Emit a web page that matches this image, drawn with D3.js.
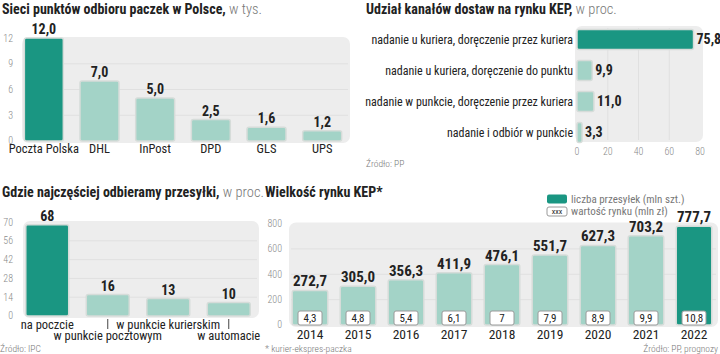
<!DOCTYPE html>
<html>
<head>
<meta charset="utf-8">
<script src="https://cdn.jsdelivr.net/npm/d3@7"></script>
<style>
  body { margin: 0; background: #fff; }
  svg { display: block; font-family: Roboto, sans-serif; font-stretch: condensed; }
</style>
</head>
<body>
<div id="chart"></div>
<script>
// dane
const pointsCats = ['Poczta Polska', 'DHL', 'InPost', 'DPD', 'GLS', 'UPS'];
const pointsValues = [12.0, 7.0, 5.0, 2.5, 1.6, 1.2];
const pointsTicks = [0, 3, 6, 9, 12];

const channelCats = [
  'nadanie u kuriera, doręczenie przez kuriera',
  'nadanie u kuriera, doręczenie do punktu',
  'nadanie w punkcie, doręczenie przez kuriera',
  'nadanie i odbiór w punkcie'
];
const channelValues = [75.8, 9.9, 11.0, 3.3];
const channelTicks = [0, 20, 40, 60, 80];

const pickupCats = ['na poczcie', 'w punkcie pocztowym', 'w punkcie kurierskim', 'w automacie'];
const pickupValues = [68, 16, 13, 10];
const pickupTicks = [0, 14, 28, 42, 56, 70];

const years = ['2014', '2015', '2016', '2017', '2018', '2019', '2020', '2021', '2022'];
const shipments = [272.7, 305.0, 356.3, 411.9, 476.1, 551.7, 627.3, 703.2, 777.7];
const marketValue = [4.3, 4.8, 5.4, 6.1, 7, 7.9, 8.9, 9.9, 10.8];
const kepTicks = [0, 200, 400, 600, 800];

const DARK = '#1a9682';
const LIGHT = '#a3d3c7';
const BAR_STROKE = '#d6dcd9';
const BG = '#ededed';
const GRID = '#e0e0e0';

const fmt1 = v => d3.format('.1f')(v).replace('.', ',');
const fmtRaw = v => String(v).replace('.', ',');

const svg = d3.select('#chart')
  .append('svg')
    .attr('width', 720)
    .attr('height', 354);

function title(g, x, y, bold, light) {
  const t = g.append('text')
    .attr('x', x)
    .attr('y', y)
    .attr('font-size', 14)
    .attr('fill', '#222');
  t.append('tspan').attr('font-weight', 'bold').text(bold);
  if (light) t.append('tspan').attr('fill', '#777').attr('font-weight', 300).attr('font-size', 14.5).text(light);
}

function yTicks(g, y, ticks, x) {
  g.selectAll(null)
    .data(ticks)
    .enter()
    .append('text')
      .attr('x', x)
      .attr('y', d => y(d) - (d === 0 ? 1 : 0))
      .attr('dy', '0.35em')
      .attr('text-anchor', 'end')
      .attr('font-size', 10)
      .attr('font-weight', 300)
      .attr('fill', '#8a8a8a')
      .text(d => d);
}

// 1. Sieci punktów odbioru paczek
{
  const g = svg.append('g');
  title(g, 2, 14, 'Sieci punktów odbioru paczek w Polsce,', ' w tys.');

  const x = d3.scaleBand().domain(pointsCats).range([16, 350]).paddingInner(0.3).paddingOuter(0.15);
  const y = d3.scaleLinear().domain([0, 12]).range([141, 38]);

  g.append('rect')
    .attr('x', 22).attr('y', y(12) - 1)
    .attr('width', 328).attr('height', y(0) - y(12) + 3)
    .attr('rx', 7).attr('fill', BG);

  g.selectAll(null).data(pointsTicks.slice(1, -1)).enter()
    .append('line')
      .attr('x1', 24).attr('x2', 348)
      .attr('y1', d => y(d)).attr('y2', d => y(d))
      .attr('stroke', GRID);

  yTicks(g, y, pointsTicks, 13);

  g.selectAll('rect.bar').data(pointsValues).enter()
    .append('rect')
      .attr('class', 'bar')
      .attr('x', (d, i) => x(pointsCats[i]))
      .attr('y', d => y(d))
      .attr('width', x.bandwidth())
      .attr('height', d => y(0) - y(d))
      .attr('rx', 2)
      .attr('fill', (d, i) => i === 0 ? DARK : LIGHT)
      .attr('stroke', BAR_STROKE)
      .attr('stroke-width', 1.5);

  g.selectAll(null).data(pointsValues).enter()
    .append('text')
      .attr('x', (d, i) => x(pointsCats[i]) + x.bandwidth() / 2)
      .attr('y', d => y(d) - 4)
      .attr('text-anchor', 'middle')
      .attr('font-size', 14)
      .attr('font-weight', 'bold')
      .attr('fill', '#222')
      .text(fmt1);

  g.selectAll(null).data(pointsCats).enter()
    .append('text')
      .attr('x', d => x(d) + x.bandwidth() / 2)
      .attr('y', 153)
      .attr('text-anchor', 'middle')
      .attr('font-size', 12.5)
      .attr('fill', '#222')
      .text(d => d);
}

// 2. Udział kanałów dostaw
{
  const g = svg.append('g');
  title(g, 366, 14, 'Udział kanałów dostaw na rynku KEP,', ' w proc.');

  const x = d3.scaleLinear().domain([0, 80]).range([577, 700]);
  const y = d3.scaleBand().domain(channelCats).range([24, 148]).paddingInner(0.35).paddingOuter(0.175);

  g.append('rect')
    .attr('x', 575).attr('y', 26)
    .attr('width', 128).attr('height', 116)
    .attr('rx', 7).attr('fill', BG);

  g.selectAll(null).data(channelTicks.slice(1, -1)).enter()
    .append('line')
      .attr('x1', d => x(d)).attr('x2', d => x(d))
      .attr('y1', 28).attr('y2', 140)
      .attr('stroke', GRID);

  g.selectAll(null).data(channelTicks).enter()
    .append('text')
      .attr('x', d => x(d))
      .attr('y', 155)
      .attr('text-anchor', 'middle')
      .attr('font-size', 10)
      .attr('font-weight', 300)
      .attr('fill', '#8a8a8a')
      .text(d => d);

  g.selectAll('rect.bar').data(channelValues).enter()
    .append('rect')
      .attr('class', 'bar')
      .attr('x', x(0))
      .attr('y', (d, i) => y(channelCats[i]))
      .attr('width', d => x(d) - x(0))
      .attr('height', y.bandwidth())
      .attr('rx', 2)
      .attr('fill', (d, i) => i === 0 ? DARK : LIGHT)
      .attr('stroke', BAR_STROKE)
      .attr('stroke-width', 1.5);

  g.selectAll(null).data(channelValues).enter()
    .append('text')
      .attr('x', d => x(d) + 3)
      .attr('y', (d, i) => y(channelCats[i]) + y.bandwidth() / 2)
      .attr('dy', '0.35em')
      .attr('font-size', 14)
      .attr('font-weight', 'bold')
      .attr('fill', '#222')
      .text(fmt1);

  g.selectAll(null).data(channelCats).enter()
    .append('text')
      .attr('x', 573)
      .attr('y', d => y(d) + y.bandwidth() / 2)
      .attr('dy', '0.35em')
      .attr('text-anchor', 'end')
      .attr('font-size', 12)
      .attr('fill', '#222')
      .text(d => d);

  g.append('text')
    .attr('x', 366).attr('y', 167)
    .attr('font-size', 9.5).attr('font-weight', 300).attr('fill', '#777')
    .text('Źródło: PP');
}

// 3. Gdzie najczęściej odbieramy przesyłki
{
  const g = svg.append('g');
  title(g, 2, 197, 'Gdzie najczęściej odbieramy przesyłki,', ' w proc.');

  const x = d3.scaleBand().domain(pickupCats).range([17, 259]).paddingInner(0.29).paddingOuter(0.145);
  const y = d3.scaleLinear().domain([0, 70]).range([316, 222]);

  g.append('rect')
    .attr('x', 23).attr('y', y(70) - 1)
    .attr('width', 236).attr('height', y(0) - y(70) + 3)
    .attr('rx', 7).attr('fill', BG);

  g.selectAll(null).data(pickupTicks.slice(1, -1)).enter()
    .append('line')
      .attr('x1', 25).attr('x2', 257)
      .attr('y1', d => y(d)).attr('y2', d => y(d))
      .attr('stroke', GRID);

  yTicks(g, y, pickupTicks, 13);

  g.selectAll('rect.bar').data(pickupValues).enter()
    .append('rect')
      .attr('class', 'bar')
      .attr('x', (d, i) => x(pickupCats[i]))
      .attr('y', d => y(d))
      .attr('width', x.bandwidth())
      .attr('height', d => y(0) - y(d))
      .attr('rx', 2)
      .attr('fill', (d, i) => i === 0 ? DARK : LIGHT)
      .attr('stroke', BAR_STROKE)
      .attr('stroke-width', 1.5);

  g.selectAll(null).data(pickupValues).enter()
    .append('text')
      .attr('x', (d, i) => x(pickupCats[i]) + x.bandwidth() / 2)
      .attr('y', d => y(d) - 4)
      .attr('text-anchor', 'middle')
      .attr('font-size', 14)
      .attr('font-weight', 'bold')
      .attr('fill', '#222')
      .text(d => d);

  g.selectAll(null).data(pickupCats).enter()
    .append('text')
      .attr('x', d => x(d) + x.bandwidth() / 2)
      .attr('y', (d, i) => i % 2 ? 340 : 329)
      .attr('text-anchor', 'middle')
      .attr('font-size', 12.5)
      .attr('fill', '#222')
      .text(d => d);

  g.selectAll(null).data(pickupCats.filter((d, i) => i % 2)).enter()
    .append('line')
      .attr('x1', d => x(d) + x.bandwidth() / 2)
      .attr('x2', d => x(d) + x.bandwidth() / 2)
      .attr('y1', 319).attr('y2', 329)
      .attr('stroke', '#444');

  g.append('text')
    .attr('x', 0).attr('y', 352)
    .attr('font-size', 9.5).attr('font-weight', 300).attr('fill', '#777')
    .text('Źródło: IPC');
}

// 4. Wielkość rynku KEP
{
  const g = svg.append('g');
  title(g, 265, 197, 'Wielkość rynku KEP*', null);

  const x = d3.scaleBand().domain(years).range([286, 718]).paddingInner(0.26).paddingOuter(0.13);
  const y = d3.scaleLinear().domain([0, 800]).range([325, 223.5]);

  g.append('rect')
    .attr('x', 289).attr('y', y(800) - 1)
    .attr('width', 429).attr('height', y(0) - y(800) + 3)
    .attr('rx', 7).attr('fill', BG);

  g.selectAll(null).data(kepTicks.slice(1, -1)).enter()
    .append('line')
      .attr('x1', 291).attr('x2', 716)
      .attr('y1', d => y(d)).attr('y2', d => y(d))
      .attr('stroke', GRID);

  yTicks(g, y, kepTicks, 282);

  g.selectAll('rect.bar').data(shipments).enter()
    .append('rect')
      .attr('class', 'bar')
      .attr('x', (d, i) => x(years[i]))
      .attr('y', d => y(d))
      .attr('width', x.bandwidth())
      .attr('height', d => y(0) - y(d))
      .attr('rx', 2)
      .attr('fill', (d, i) => i === years.length - 1 ? DARK : LIGHT)
      .attr('stroke', BAR_STROKE)
      .attr('stroke-width', 1.5);

  g.selectAll(null).data(shipments).enter()
    .append('text')
      .attr('x', (d, i) => x(years[i]) + x.bandwidth() / 2)
      .attr('y', d => y(d) - 4)
      .attr('text-anchor', 'middle')
      .attr('font-size', 15)
      .attr('font-weight', 'bold')
      .attr('fill', '#222')
      .text(fmt1);

  const boxes = g.selectAll('g.val').data(marketValue).enter()
    .append('g')
      .attr('class', 'val')
      .attr('transform', (d, i) => `translate(${x(years[i]) + x.bandwidth() / 2}, 318)`);
  boxes.append('rect')
    .attr('x', -12).attr('y', -7)
    .attr('width', 24).attr('height', 14)
    .attr('rx', 2)
    .attr('fill', '#fff')
    .attr('stroke', '#9a9a9a');
  boxes.append('text')
    .attr('text-anchor', 'middle')
    .attr('dy', '0.35em')
    .attr('font-size', 11)
    .attr('fill', '#222')
    .text(fmtRaw);

  g.selectAll(null).data(years).enter()
    .append('text')
      .attr('x', d => x(d) + x.bandwidth() / 2)
      .attr('y', 339)
      .attr('text-anchor', 'middle')
      .attr('font-size', 13.5)
      .attr('fill', '#222')
      .text(d => d);

  // legenda
  g.append('rect')
    .attr('x', 547).attr('y', 194.5)
    .attr('width', 20).attr('height', 9)
    .attr('rx', 2).attr('fill', DARK);
  g.append('text')
    .attr('x', 571).attr('y', 199)
    .attr('dy', '0.35em')
    .attr('font-size', 11).attr('fill', '#777')
    .text('liczba przesyłek (mln szt.)');
  g.append('rect')
    .attr('x', 547).attr('y', 207)
    .attr('width', 20).attr('height', 9)
    .attr('rx', 2).attr('fill', '#fff').attr('stroke', '#9a9a9a');
  g.append('text')
    .attr('x', 557).attr('y', 211.5)
    .attr('dy', '0.35em')
    .attr('text-anchor', 'middle')
    .attr('font-size', 8).attr('fill', '#222')
    .text('xxx');
  g.append('text')
    .attr('x', 571).attr('y', 211.5)
    .attr('dy', '0.35em')
    .attr('font-size', 11).attr('fill', '#777')
    .text('wartość rynku (mln zł)');

  g.append('text')
    .attr('x', 265).attr('y', 352)
    .attr('font-size', 9.5).attr('font-weight', 300).attr('fill', '#777')
    .text('* kurier-ekspres-paczka');
  g.append('text')
    .attr('x', 718).attr('y', 352)
    .attr('text-anchor', 'end')
    .attr('font-size', 9.5).attr('font-weight', 300).attr('fill', '#777')
    .text('Źródło: PP, prognozy');
}
</script>
</body>
</html>
